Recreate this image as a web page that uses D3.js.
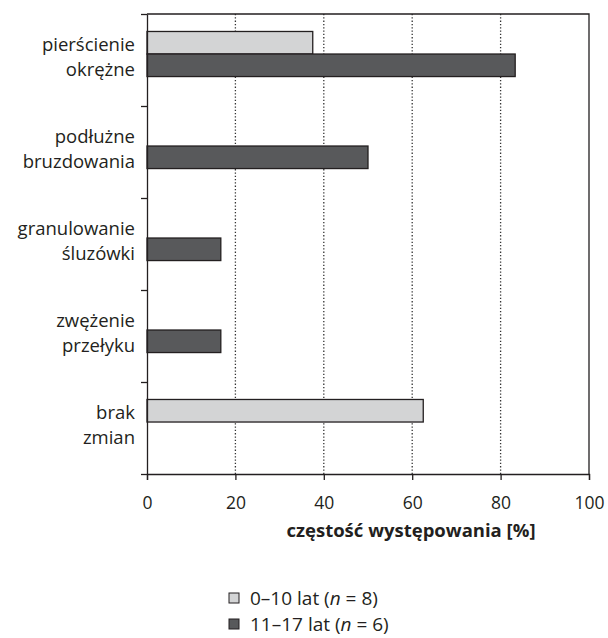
<!DOCTYPE html>
<html>
<head>
<meta charset="utf-8">
<script src="https://cdn.jsdelivr.net/npm/d3@7"></script>
<style>
  body { margin: 0; background: #fff; }
  text { font-family: "Open Sans", sans-serif; fill: #231f20; }
</style>
</head>
<body>
<div id="chart"></div>
<script>

// categories (two lines each)
var categories = [["pierścienie", "okrężne"],
                  ["podłużne", "bruzdowania"],
                  ["granulowanie", "śluzówki"],
                  ["zwężenie", "przełyku"],
                  ["brak", "zmian"]];

// series values [%]
var young = [37.5, 0, 0, 0, 62.5];   // 0-10 lat
var older = [83.3, 50, 16.7, 16.7, 0];  // 11-17 lat

var xTicks = [0, 20, 40, 60, 80, 100];
var gridTicks = [20, 40, 60, 80];

function init(){

    var w = 608;
    var h = 638;
    var left = 147, right = 589, top = 14, bottom = 474;
    var ink = "#231f20";

    var svg = d3.select("#chart")
                .append("svg")
                .attr("width", w)
                .attr("height", h);

    var xScale = d3.scaleLinear()
                    .domain([0, 100])
                    .range([left, right]);

    var yScale = d3.scaleBand()
                    .domain(d3.range(categories.length))
                    .range([top, bottom]);

    var bw = yScale.bandwidth();
    // the two bars sit a bit above the middle of each band
    var sub = d3.scaleBand()
                .domain(["young", "older"])
                .range([bw * 0.19, bw * 0.68]);

    // dotted grid
    svg.selectAll("line.grid")
        .data(gridTicks)
        .enter()
        .append("line")
        .attr("class", "grid")
        .attr("x1", function(d){ return xScale(d); })
        .attr("x2", function(d){ return xScale(d); })
        .attr("y1", top)
        .attr("y2", bottom)
        .attr("stroke", "#333")
        .attr("stroke-width", 1.3)
        .attr("stroke-dasharray", "1.3,2");

    var series = [{key: "young", values: young, fill: "#d3d4d5"},
                  {key: "older", values: older, fill: "#58595b"}];

    series.forEach(function(s){
        var rows = s.values.map(function(v, i){ return {v: v, i: i}; })
                    .filter(function(d){ return d.v > 0; });
        svg.selectAll("rect." + s.key)
            .data(rows)
            .enter()
            .append("rect")
            .attr("class", s.key)
            .attr("x", xScale(0))
            .attr("y", function(d){ return yScale(d.i) + sub(s.key); })
            .attr("width", function(d){ return xScale(d.v) - xScale(0); })
            .attr("height", sub.bandwidth())
            .attr("fill", s.fill)
            .attr("stroke", ink)
            .attr("stroke-width", 1.3);
    });

    // frame: top and right
    svg.append("path")
        .attr("d", "M" + left + "," + top + "H" + right + "V" + bottom)
        .attr("fill", "none")
        .attr("stroke", ink)
        .attr("stroke-width", 1.3);

    // x axis
    var xAxis = d3.axisBottom(xScale)
                    .tickValues(xTicks)
                    .tickSize(6)
                    .tickPadding(17);

    var gx = svg.append("g")
        .attr("transform", "translate(0," + bottom + ")")
        .call(xAxis);
    gx.select(".domain").attr("stroke", ink).attr("stroke-width", 1.3);
    gx.selectAll(".tick line").attr("stroke", ink).attr("stroke-width", 1.3);
    gx.selectAll(".tick text")
        .attr("font-family", "Open Sans, sans-serif")
        .attr("font-size", 17.5)
        .attr("fill", ink);

    // y axis, ticks between categories
    var yLin = d3.scaleLinear()
                .domain([0, categories.length])
                .range([top, bottom]);

    var yAxis = d3.axisLeft(yLin)
                    .tickValues(d3.range(categories.length + 1))
                    .tickFormat("")
                    .tickSize(6)
                    .tickSizeOuter(0);

    var gy = svg.append("g")
        .attr("transform", "translate(" + left + ",0)")
        .call(yAxis);
    gy.select(".domain").attr("stroke", ink).attr("stroke-width", 1.3);
    gy.selectAll(".tick line").attr("stroke", ink).attr("stroke-width", 1.3);

    // category labels
    var labels = svg.selectAll("text.cat")
        .data(categories)
        .enter()
        .append("text")
        .attr("class", "cat")
        .attr("text-anchor", "end")
        .attr("font-size", 18.5)
        .attr("y", function(d, i){ return yScale(i) + bw * 0.42; });

    labels.selectAll("tspan")
        .data(function(d){ return d; })
        .enter()
        .append("tspan")
        .attr("x", 135)
        .attr("dy", function(d, j){ return j == 0 ? "-0.1em" : "1.35em"; })
        .text(function(d){ return d; });

    // axis title
    svg.append("text")
        .attr("x", 411)
        .attr("y", 537)
        .attr("text-anchor", "middle")
        .attr("font-size", 18.5)
        .attr("font-weight", "bold")
        .text("częstość występowania [%]");

    // legend
    var legend = svg.selectAll("g.legend")
        .data([{fill: "#d3d4d5", label: "0–10 lat (", n: "8"},
               {fill: "#58595b", label: "11–17 lat (", n: "6"}])
        .enter()
        .append("g")
        .attr("class", "legend")
        .attr("transform", function(d, i){ return "translate(229," + (593 + i * 26) + ")"; });

    legend.append("rect")
        .attr("width", 10)
        .attr("height", 10)
        .attr("fill", function(d){ return d.fill; })
        .attr("stroke", ink)
        .attr("stroke-width", 1);

    var lt = legend.append("text")
        .attr("x", 21)
        .attr("y", 12)
        .attr("font-size", 19);
    lt.append("tspan").text(function(d){ return d.label; });
    lt.append("tspan").attr("font-style", "italic").text("n");
    lt.append("tspan").text(function(d){ return " = " + d.n + ")"; });
}

window.onload = init;
</script>
</body>
</html>
